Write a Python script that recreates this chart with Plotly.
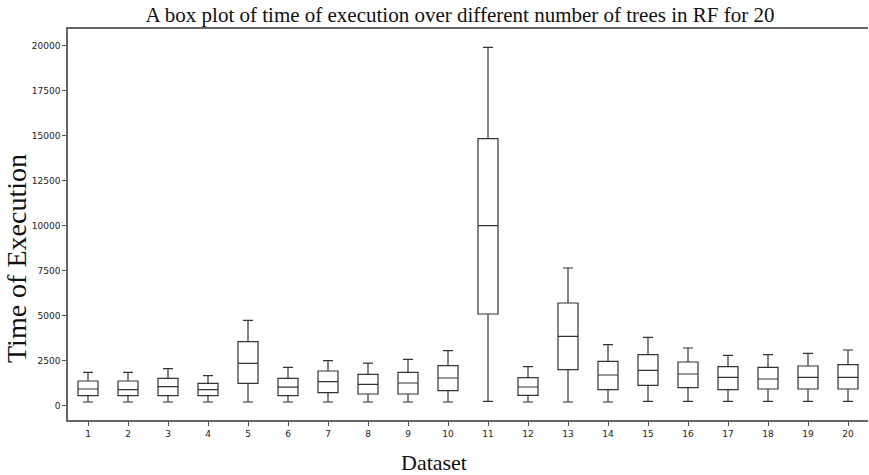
import plotly.graph_objects as go

datasets = list(range(1, 21))
lower_whisker = [206, 206, 206, 206, 206, 206, 206, 206, 206, 206,
                 243, 206, 206, 206, 243, 243, 243, 243, 243, 243]
q1 = [556, 556, 556, 556, 1242, 556, 723, 649, 649, 835,
      5094, 576, 2000, 889, 1133, 1000, 889, 928, 928, 928]
median = [928, 889, 1056, 889, 2354, 1037, 1335, 1187, 1260, 1539,
          10000, 1039, 3854, 1706, 1965, 1761, 1578, 1483, 1578, 1578]
q3 = [1372, 1372, 1520, 1242, 3556, 1520, 1928, 1742, 1855, 2224,
      14836, 1556, 5706, 2465, 2833, 2428, 2167, 2133, 2206, 2278]
upper_whisker = [1855, 1855, 2056, 1667, 4744, 2131, 2500, 2370, 2577, 3057,
                 19911, 2167, 7650, 3389, 3800, 3206, 2800, 2833, 2911, 3094]
y_ticks = [0, 2500, 5000, 7500, 10000, 12500, 15000, 17500, 20000]

title_text = "A box plot of time of execution over different number of trees in RF for 20"
x_title = "Dataset"
y_title = "Time of Execution"

fig = go.Figure()
fig.add_trace(go.Box(
    x=datasets,
    q1=q1, median=median, q3=q3,
    lowerfence=lower_whisker, upperfence=upper_whisker,
    width=0.5,
    whiskerwidth=0.5,
    fillcolor="rgba(255,255,255,0)",
    line=dict(color="#333333", width=1.2),
    boxpoints=False,
    showlegend=False,
    hoverinfo="skip",
))

serif = "Liberation Serif, Times New Roman, serif"
sans = "DejaVu Sans, sans-serif"

fig.update_layout(
    width=869, height=475,
    margin=dict(l=68, r=1, t=29, b=55, autoexpand=False),
    paper_bgcolor="white", plot_bgcolor="white",
    title=dict(text=title_text, x=460 / 869, xanchor="center",
               y=1 - 15 / 475, yanchor="middle",
               font=dict(family=serif, size=21, color="#111111")),
    xaxis=dict(
        range=[0.5, 20.5], tickvals=datasets, ticktext=[str(d) for d in datasets],
        ticks="outside", ticklen=4, tickwidth=1, tickcolor="#555555",
        showline=True, linecolor="#666666", linewidth=1.5, mirror=True,
        showgrid=False, zeroline=False, automargin=False,
        tickfont=dict(family=sans, size=9, color="#222222"),
    ),
    yaxis=dict(
        range=[-795, 20930], tickvals=y_ticks, ticktext=[str(t) for t in y_ticks],
        ticks="outside", ticklen=4, tickwidth=1, tickcolor="#555555",
        showline=True, linecolor="#666666", linewidth=1.5,
        showgrid=False, zeroline=False, automargin=False,
        tickfont=dict(family=sans, size=9, color="#222222"),
    ),
    annotations=[
        dict(text=x_title, xref="paper", yref="paper", x=(434 - 68) / 800, y=0,
             yshift=-42, xanchor="center", yanchor="middle", showarrow=False,
             font=dict(family=serif, size=22, color="#111111")),
        dict(text=y_title, xref="paper", yref="paper", x=0, xshift=-52,
             y=(420 - 259) / 391, xanchor="center", yanchor="middle",
             textangle=-90, showarrow=False,
             font=dict(family=serif, size=28, color="#111111")),
    ],
)

fig.write_html("out.html",
               config={"displayModeBar": False},
               post_script="document.body.style.margin='0';document.body.style.padding='0';")
